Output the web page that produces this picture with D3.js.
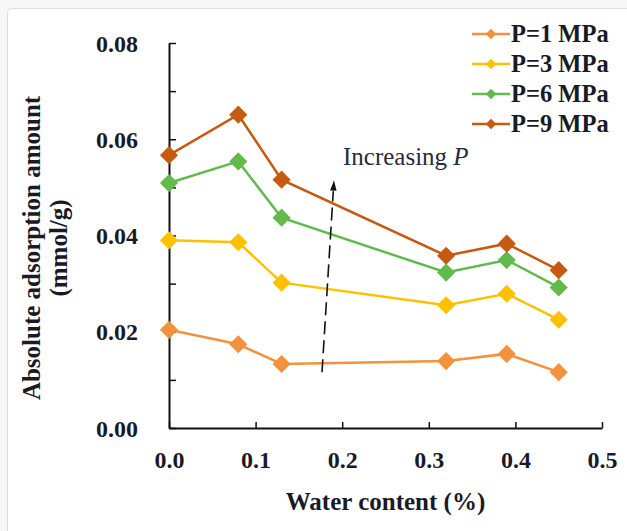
<!DOCTYPE html>
<html>
<head>
<meta charset="utf-8">
<script src="https://cdn.jsdelivr.net/npm/d3@7"></script>
<style>
  body { margin: 0; background: #f6f6f6; }
  svg { display: block; font-family: "Liberation Serif", "Times New Roman", serif; }
</style>
</head>
<body>
<svg id="chart" width="627" height="531"></svg>
<script>
// data
const waterContent = [0.0, 0.08, 0.13, 0.32, 0.39, 0.45];
const seriesNames = ["P=1 MPa", "P=3 MPa", "P=6 MPa", "P=9 MPa"];
const seriesColors = ["#f4913c", "#ffc000", "#62b94c", "#c65a11"];
const p1 = [0.0204, 0.0174, 0.0133, 0.0139, 0.0154, 0.0116];
const p3 = [0.0390, 0.0386, 0.0302, 0.0255, 0.0279, 0.0225];
const p6 = [0.0509, 0.0554, 0.0437, 0.0323, 0.0349, 0.0292];
const p9 = [0.0567, 0.0651, 0.0516, 0.0358, 0.0383, 0.0328];
const xTicks = [0, 0.1, 0.2, 0.3, 0.4, 0.5];
const yTicks = [0, 0.01, 0.02, 0.03, 0.04, 0.05, 0.06, 0.07, 0.08];
const yLabelTicks = [0, 0.02, 0.04, 0.06, 0.08];
// dashed arrow "Increasing P": [start, end] in data units
const arrowPts = [{x: 0.1767, y: 0.0116}, {x: 0.1905, y: 0.0515}];

const series = [p1, p3, p6, p9].map((vals, i) => ({
    name: seriesNames[i],
    color: seriesColors[i],
    values: vals.map((v, j) => ({x: waterContent[j], y: v}))
}));

const margin = {top: 43, left: 169};
const width = 433, height = 385;

const svg = d3.select("#chart");

// faint frame around the figure
svg.append("rect")
    .attr("x", 7.5).attr("y", 8.5)
    .attr("width", 660).attr("height", 560)
    .attr("rx", 4)
    .attr("fill", "#fff")
    .attr("stroke", "#dedede");

const g = svg.append("g")
    .attr("transform", `translate(${margin.left},${margin.top})`);

const x = d3.scaleLinear().domain([0, 0.5]).range([0, width]);
const y = d3.scaleLinear().domain([0, 0.08]).range([height, 0]);

// axes, ticks pointing inward
const xAxis = g.append("g")
    .attr("transform", `translate(0,${height})`)
    .call(d3.axisBottom(x)
        .tickValues(xTicks)
        .tickSizeInner(-6)
        .tickSizeOuter(0)
        .tickFormat(d3.format(".1f")));

const yAxis = g.append("g")
    .call(d3.axisLeft(y)
        .tickValues(yTicks)
        .tickSizeInner(-7)
        .tickSizeOuter(0)
        .tickFormat(d => yLabelTicks.some(t => Math.abs(t - d) < 1e-9) ? d3.format(".2f")(d) : ""));

[xAxis, yAxis].forEach(ax => {
    ax.select(".domain").attr("stroke", "#111").attr("stroke-width", 2);
    ax.selectAll(".tick line").attr("stroke", "#111").attr("stroke-width", 1.5);
    ax.selectAll(".tick text")
        .attr("fill", "#1a1a26")
        .style("font-size", "24px")
        .style("font-weight", "bold")
        .style("font-family", "Liberation Serif, serif");
});
xAxis.selectAll(".tick text").attr("y", 40).attr("dy", null);
yAxis.selectAll(".tick text").attr("x", -31).attr("dy", "0.34em");

// series lines and diamond markers
const line = d3.line().x(d => x(d.x)).y(d => y(d.y));
const diamond = d3.symbol(d3.symbolSquare, 165);

series.forEach(s => {
    g.append("path")
        .datum(s.values)
        .attr("fill", "none")
        .attr("stroke", s.color)
        .attr("stroke-width", 2.5)
        .attr("d", line);

    g.selectAll(null)
        .data(s.values)
        .enter().append("path")
        .attr("d", diamond)
        .attr("transform", d => `translate(${x(d.x)},${y(d.y)}) rotate(45)`)
        .attr("fill", s.color);
});

// dashed arrow and annotation
const ax0 = x(arrowPts[0].x), ay0 = y(arrowPts[0].y);
const ax1 = x(arrowPts[1].x), ay1 = y(arrowPts[1].y);
const ang = Math.atan2(ay1 - ay0, ax1 - ax0);
const headLen = 11;
g.append("line")
    .attr("x1", ax0).attr("y1", ay0)
    .attr("x2", ax1 - Math.cos(ang) * headLen).attr("y2", ay1 - Math.sin(ang) * headLen)
    .attr("stroke", "#111")
    .attr("stroke-width", 1.6)
    .attr("stroke-dasharray", "13,6");
g.append("path")
    .attr("d", d3.line()([
        [ax1, ay1],
        [ax1 - Math.cos(ang - 0.3) * headLen, ay1 - Math.sin(ang - 0.3) * headLen],
        [ax1 - Math.cos(ang + 0.3) * headLen, ay1 - Math.sin(ang + 0.3) * headLen]
    ]) + "Z")
    .attr("fill", "#111");

const note = g.append("text")
    .attr("x", ax1 + 9)
    .attr("y", ay1 - 15)
    .attr("fill", "#2a2a3a")
    .style("font-size", "25px");
note.append("tspan").text("Increasing ");
note.append("tspan").attr("font-style", "italic").text("P");

// axis titles
svg.append("text")
    .attr("x", margin.left + width / 2)
    .attr("y", 510)
    .attr("text-anchor", "middle")
    .attr("fill", "#1a1a26")
    .style("font-size", "25px")
    .style("font-weight", "bold")
    .text("Water content (%)");

const yTitle = svg.append("text")
    .attr("transform", "translate(40,248) rotate(-90)")
    .attr("text-anchor", "middle")
    .attr("fill", "#1a1a26")
    .style("font-size", "25px")
    .style("font-weight", "bold");
yTitle.append("tspan").attr("x", 0).attr("y", 0).text("Absolute adsorption amount");
yTitle.append("tspan").attr("x", 0).attr("y", 27).text("(mmol/g)");

// legend
const legend = svg.append("g").attr("transform", "translate(472,34)");
const legendRow = legend.selectAll("g")
    .data(series)
    .enter().append("g")
    .attr("transform", (d, i) => `translate(0,${i * 30})`);
legendRow.append("line")
    .attr("x1", 0).attr("x2", 38)
    .attr("stroke", d => d.color)
    .attr("stroke-width", 2.5);
legendRow.append("path")
    .attr("d", d3.symbol(d3.symbolSquare, 55))
    .attr("transform", "translate(19,0) rotate(45)")
    .attr("fill", d => d.color);
legendRow.append("text")
    .attr("x", 39)
    .attr("y", 8)
    .attr("fill", "#1a1a26")
    .style("font-size", "24.5px")
    .style("font-weight", "bold")
    .text(d => d.name);
</script>
</body>
</html>
